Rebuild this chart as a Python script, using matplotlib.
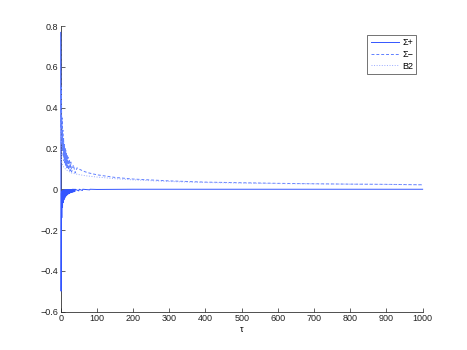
import matplotlib
matplotlib.use("Agg")
import matplotlib.pyplot as plt

# Sigma+ (solid): spike at tau=0/1, then negative oscillation decaying to 0
tau_plus = [0, 1, 2, 3, 4, 5, 6, 7, 8, 9, 10, 11, 12, 13, 14, 15, 16, 17, 18, 19,
            20, 21, 22, 23, 24, 25, 26, 27, 28, 29, 30, 31, 32, 33, 34, 35, 36, 37,
            38, 39, 40, 50, 51, 60, 61, 80, 81, 100, 200, 500, 1000]
sig_plus = [0.77, -0.50, -0.02, -0.14, -0.01, -0.09, -0.005, -0.065, -0.004, -0.052,
            -0.003, -0.044, -0.003, -0.038, -0.002, -0.033, -0.002, -0.029, -0.002, -0.026,
            -0.001, -0.023, -0.001, -0.021, -0.001, -0.019, -0.001, -0.017, -0.001, -0.016,
            -0.001, -0.015, 0.0, -0.014, 0.0, -0.013, 0.0, -0.012, 0.0, -0.011,
            0.0, -0.008, 0.0, -0.006, 0.0, -0.003, 0.0, -0.001, 0.0, 0.0, 0.0]

# Sigma- (dashed): decaying curve with alternating lower points at small tau
tau_minus = [0, 1, 2, 3, 4, 5, 6, 7, 8, 9, 10, 11, 12, 13, 14, 15, 16, 17, 18, 19,
             20, 22, 24, 26, 28, 30, 35, 40, 45, 50, 60, 70, 80, 100, 150, 200, 300,
             400, 500, 600, 700, 800, 900, 1000]
sig_minus = [0.75, 0.30, 0.50, 0.22, 0.35, 0.19, 0.29, 0.16, 0.25, 0.14, 0.22, 0.13,
             0.20, 0.12, 0.19, 0.11, 0.175, 0.105, 0.165, 0.10, 0.158, 0.095, 0.145, 0.09,
             0.134, 0.085, 0.119, 0.08, 0.105, 0.10, 0.091, 0.084, 0.079, 0.071, 0.058,
             0.050, 0.041, 0.035, 0.032, 0.029, 0.027, 0.025, 0.024, 0.022]

# B2 (dotted)
tau_b2 = [0, 1, 2, 3, 5, 8, 10, 15, 20, 30, 50, 70, 100, 150, 200, 300, 400, 600, 800, 1000]
b2 = [0.30, 0.18, 0.14, 0.13, 0.12, 0.11, 0.105, 0.095, 0.09, 0.08, 0.072, 0.066,
      0.060, 0.052, 0.046, 0.038, 0.033, 0.028, 0.025, 0.022]

labels = ["\u03a3+", "\u03a3\u2212", "B2"]

plt.rcParams['font.family'] = ['Liberation Sans', 'DejaVu Sans']
fig = plt.figure(figsize=(4.67, 3.5), dpi=100)
ax = fig.add_axes([0.13, 0.11, 0.775, 0.815])

ax.plot(tau_plus, sig_plus, '-', color='#3355ff', lw=0.7, label=labels[0], zorder=3, clip_on=False)
ax.plot(tau_minus, sig_minus, '--', color='#6080ff', lw=0.7, label=labels[1], dashes=(3, 2),
        zorder=3, clip_on=False)
ax.plot(tau_b2, b2, ':', color='#99aaff', lw=0.7, label=labels[2], zorder=3, clip_on=False)

ax.set_xlim(0, 1000)
ax.set_ylim(-0.6, 0.8)
ax.set_xticks(range(0, 1001, 100))
ax.set_yticks([-0.6, -0.4, -0.2, 0, 0.2, 0.4, 0.6, 0.8])
ax.set_yticklabels(['\u22120.6', '\u22120.4', '\u22120.2', '0', '0.2', '0.4', '0.6', '0.8'])
ax.set_xlabel("\u03c4", fontsize=6.5, labelpad=1)
ax.tick_params(direction='in', length=3, width=0.5, labelsize=6.5, colors='#222222', pad=2)
for s in ['top', 'right']:
    ax.spines[s].set_visible(False)
for s in ['left', 'bottom']:
    ax.spines[s].set_linewidth(0.6)
    ax.spines[s].set_color('#333333')
    ax.spines[s].set_zorder(1)

leg = ax.legend(loc='upper right', fontsize=6.5, frameon=True, fancybox=False,
                edgecolor='#333333', handlelength=3.2, borderpad=0.35, labelspacing=0.3,
                handletextpad=0.3, bbox_to_anchor=(0.995, 0.985))
leg.get_frame().set_linewidth(0.6)
leg.set_zorder(5)

fig.savefig("out.png", dpi=100)
